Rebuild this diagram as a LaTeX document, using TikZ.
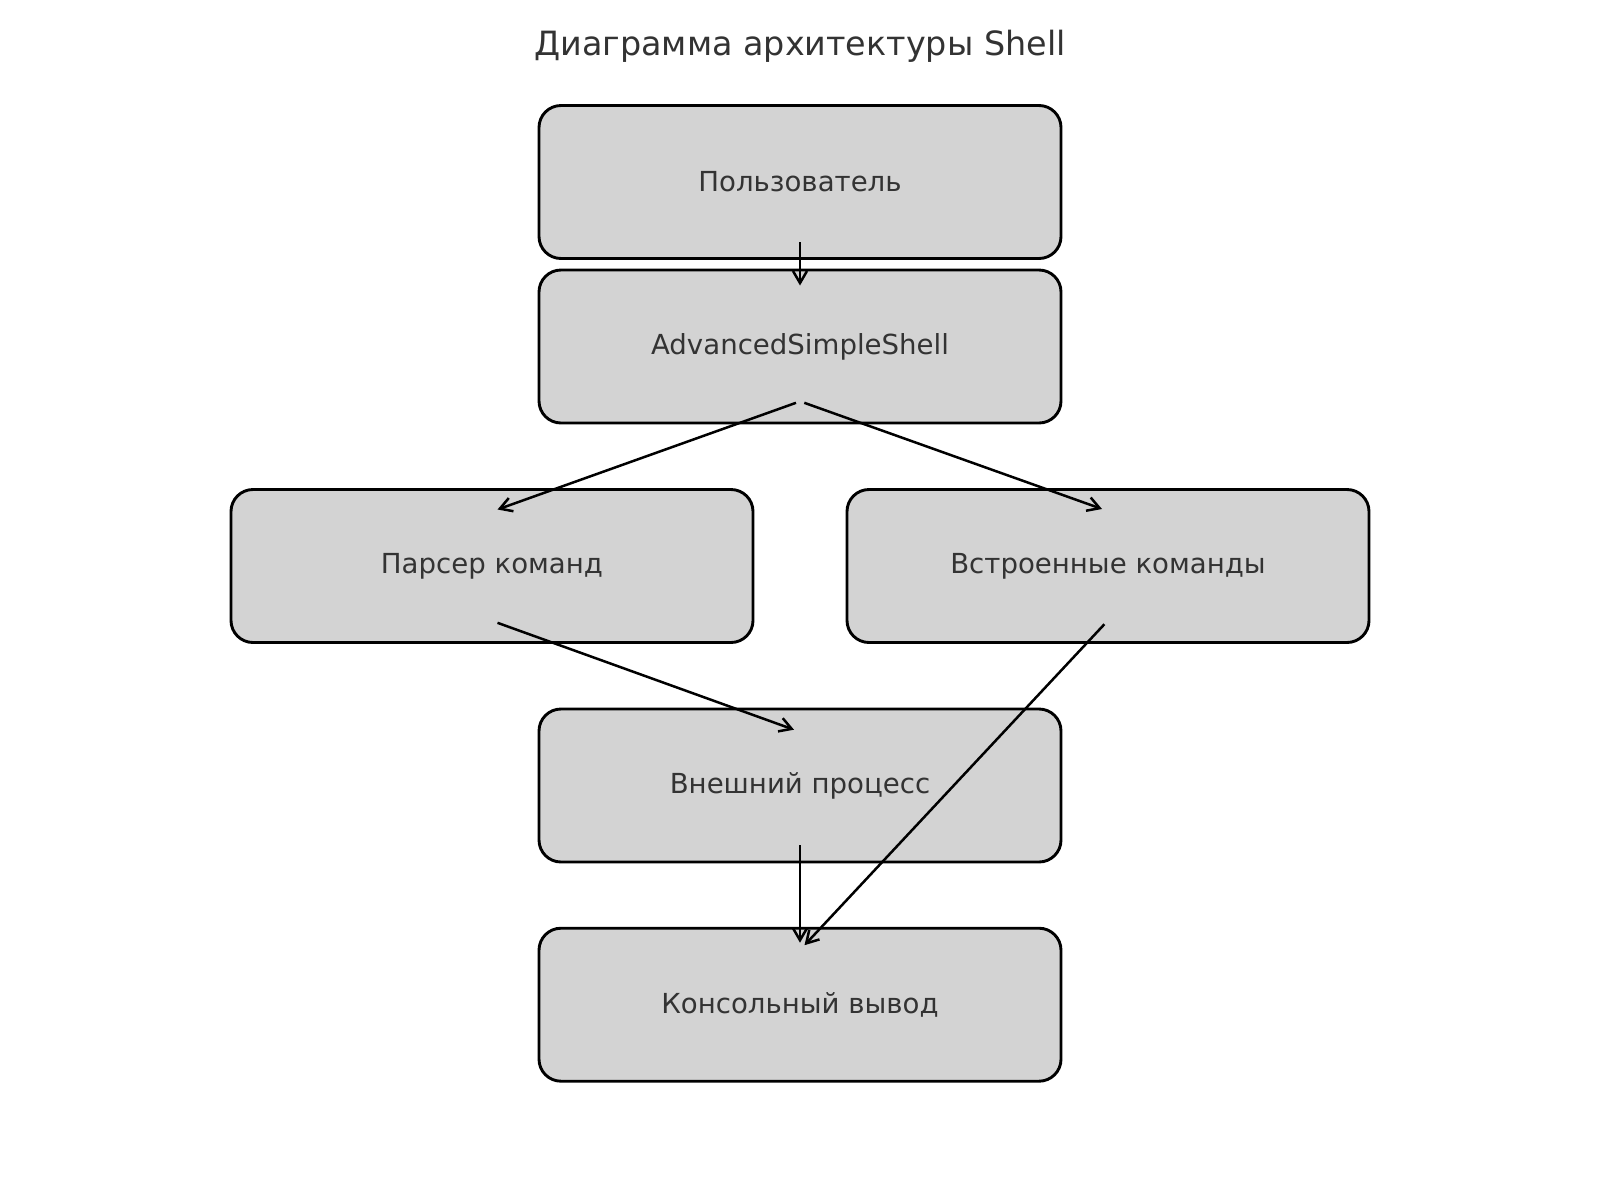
\documentclass[tikz,border=0pt]{standalone}
\usepackage{fontspec}
\setmainfont{DejaVu Sans}
\usetikzlibrary{arrows.meta,calc}
\definecolor{txt}{HTML}{333333}
\definecolor{boxfill}{HTML}{D3D3D3}
\begin{document}
\begin{tikzpicture}[x=0.5pt,y=-0.5pt,
  blk/.style={draw=black,line width=1.45pt,fill=boxfill,rounded corners=11pt,
    minimum width=261pt,minimum height=76.5pt,inner sep=0pt,
    text=txt,font=\fontsize{13.8}{16}\selectfont},
  conn/.style={draw=black,line width=1.25pt,-{Straight Barb[length=6pt,width=7pt,line width=1.25pt]}},
  titlestyle/.style={text=txt,font=\fontsize{16.7}{20}\selectfont,inner sep=0pt}]
\useasboundingbox (0,0) rectangle (1600,1200);
\node[titlestyle] (title) at (800,46) {Диаграмма архитектуры Shell};
\node[blk] (user) at (800,182) {Пользователь};
\node[blk] (shell) at (800,346.5) {AdvancedSimpleShell};
\node[blk] (parser) at (492,566) {Парсер команд};
\node[blk] (builtin) at (1108,566) {Встроенные команды};
\node[blk] (ext) at (800,785.5) {Внешний процесс};
\node[blk] (console) at (800,1004.7) {Консольный вывод};
% connector end points, relative to the nodes
\coordinate (a1s) at ($(user.center)+(0,60)$);
\coordinate (a1e) at ($(shell.center)+(0,-61)$);
\coordinate (a2s) at ($(shell.center)+(-4,56.3)$);
\coordinate (a2e) at ($(parser.center)+(5.5,-56.5)$);
\coordinate (a3s) at ($(shell.center)+(4.3,56.3)$);
\coordinate (a3e) at ($(builtin.center)+(-6,-57)$);
\coordinate (a4s) at ($(parser.center)+(5.5,56.8)$);
\coordinate (a4e) at ($(ext.center)+(-6,-55.8)$);
\coordinate (a5s) at ($(builtin.center)+(-3.6,58.2)$);
\coordinate (a5e) at ($(console.center)+(4.5,-59.5)$);
\coordinate (a6s) at ($(ext.center)+(0,59.5)$);
\coordinate (a6e) at ($(console.center)+(0,-62)$);
\draw[conn] (a1s) -- (a1e);
\draw[conn] (a2s) -- (a2e);
\draw[conn] (a3s) -- (a3e);
\draw[conn] (a4s) -- (a4e);
\draw[conn] (a5s) -- (a5e);
\draw[conn] (a6s) -- (a6e);
\end{tikzpicture}
\end{document}
